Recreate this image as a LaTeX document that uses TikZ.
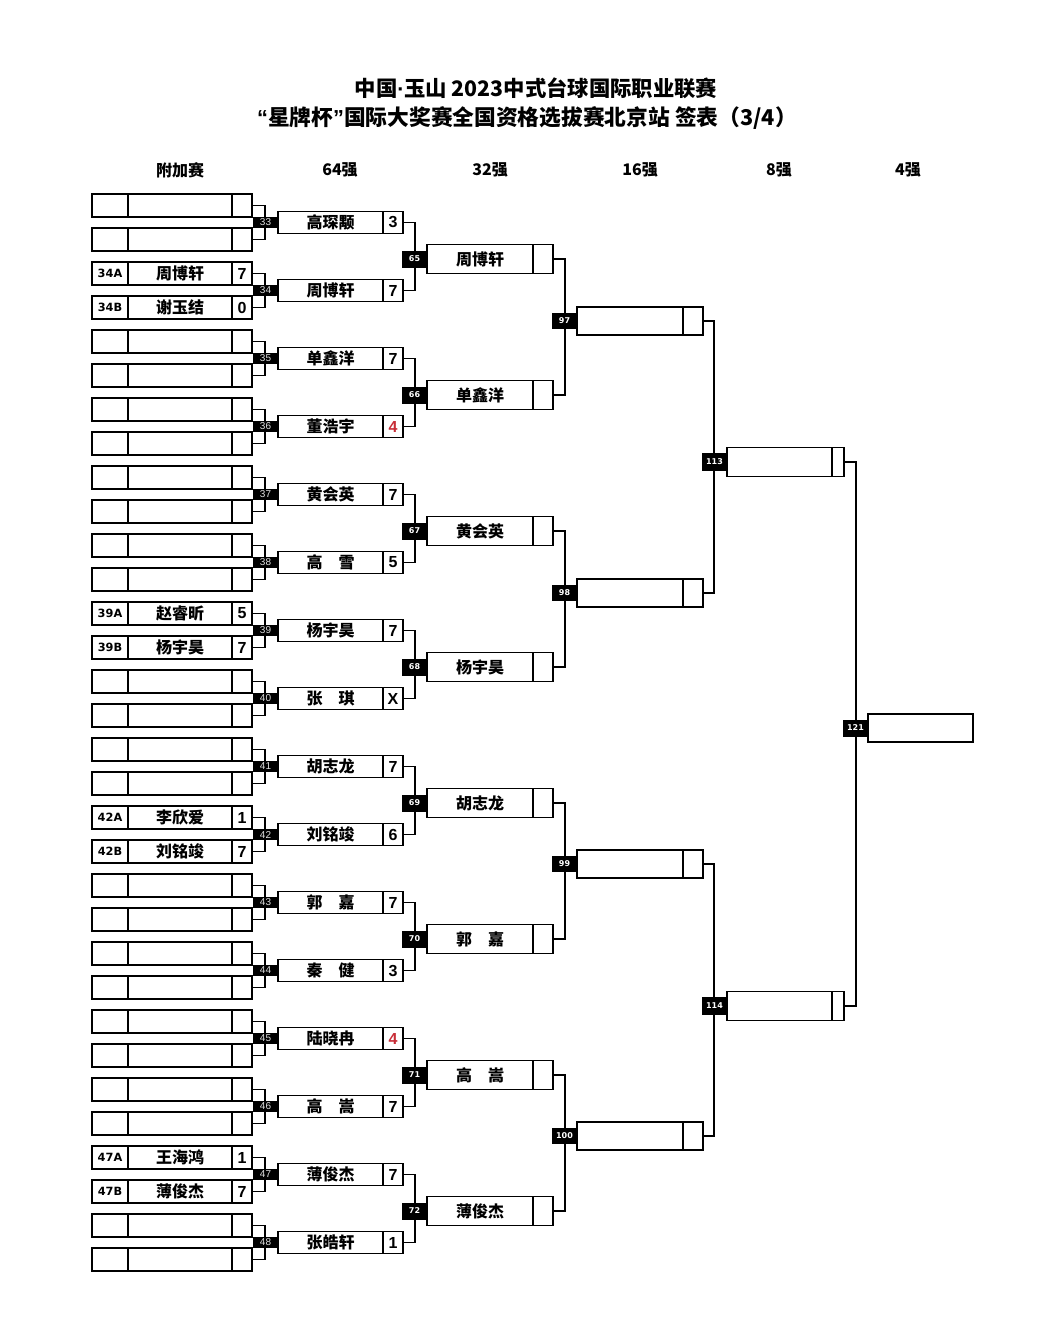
\documentclass[tikz,border=0pt]{standalone}
\usepackage{fontspec}
\setmainfont{Liberation Sans}
\newfontfamily\cjk{Noto Sans CJK SC}
\newfontfamily\verd{DejaVu Sans}
\usepackage{tikz}
\usetikzlibrary{positioning}

\newcommand\pxl{0.75pt}
\definecolor{losered}{RGB}{200,45,55}

\begin{document}
\begin{tikzpicture}[
  x=\pxl, y=-\pxl, line width=1pt,
  cell/.style={draw,inner sep=0pt,outer sep=0pt,fill=white},
  namecell/.style={cell,font=\cjk\bfseries\fontsize{12pt}{12pt}\selectfont},
  scorecell/.style={cell,font=\bfseries\fontsize{12pt}{12pt}\selectfont},
  seedcell/.style={cell,font=\verd\bfseries\fontsize{8.5pt}{8.5pt}\selectfont},
  tag/.style={fill=black,inner sep=0pt,outer sep=0pt,minimum width=25*\pxl},
  tagsm/.style={tag,text=white!88!black,minimum height=11*\pxl,font=\fontsize{7.5pt}{7.5pt}\selectfont},
  tagbig/.style={tag,text=white,minimum height=17*\pxl,font=\verd\bfseries\fontsize{6pt}{6pt}\selectfont},
  head/.style={font=\cjk\bfseries\fontsize{12pt}{12pt}\selectfont},
  title/.style={font=\cjk\bfseries\fontsize{16pt}{16pt}\selectfont}
]
\useasboundingbox (0,0) rectangle (1042,1338);

% title and round headers
\node[title] (tt1) at (536,88) {中国{\rmfamily\bfseries ·}玉山 2023中式台球国际职业联赛};
\node[title,font=\cjk\bfseries\fontsize{16.3pt}{16.3pt}\selectfont] (tt2) at (527,118) {{\rmfamily\bfseries “}星牌杯{\rmfamily\bfseries ”}国际大奖赛全国资格选拔赛北京站 签表（3/4）};
\foreach \hx/\hlab [count=\k] in {180/附加赛,340/64强,490/32强,640/16强,779/8强,908/4强}
  \node[head] (h\k) at (\hx,170) {\hlab};

% round of 64
\foreach \m/\nm/\scr [count=\i from 0] in {33/高琛颙/3,34/周博轩/7,35/单鑫洋/7,
    36/董浩宇/{\textcolor{losered}{4}},37/黄会英/7,38/高　雪/5,39/杨宇昊/7,40/张　琪/X,
    41/胡志龙/7,42/刘铭竣/6,43/郭　嘉/7,44/秦　健/3,45/陆晓冉/{\textcolor{losered}{4}},
    46/高　嵩/7,47/薄俊杰/7,48/张皓轩/1}{
  \pgfmathsetmacro\yy{222.5+68*\i}
  \node[namecell,minimum width=105*\pxl,minimum height=22*\pxl,anchor=west] (r\m) at (278,\yy) {\nm};
  \node[scorecell,minimum width=20*\pxl,minimum height=22*\pxl,right=0pt of r\m] (rs\m) {\scr};
}

% qualifiers (附加赛)
\foreach \m/\da/\na/\pa/\db/\nb/\pb [count=\i from 0] in {
    33/{}/{}/{}/{}/{}/{},34/34A/周博轩/7/34B/谢玉结/0,35/{}/{}/{}/{}/{}/{},
    36/{}/{}/{}/{}/{}/{},37/{}/{}/{}/{}/{}/{},38/{}/{}/{}/{}/{}/{},
    39/39A/赵睿昕/5/39B/杨宇昊/7,40/{}/{}/{}/{}/{}/{},41/{}/{}/{}/{}/{}/{},
    42/42A/李欣爱/1/42B/刘铭竣/7,43/{}/{}/{}/{}/{}/{},44/{}/{}/{}/{}/{}/{},
    45/{}/{}/{}/{}/{}/{},46/{}/{}/{}/{}/{}/{},47/47A/王海鸿/1/47B/薄俊杰/7,
    48/{}/{}/{}/{}/{}/{}}{
  \pgfmathsetmacro\ya{205.5+68*\i}
  \pgfmathsetmacro\yb{239.5+68*\i}
  \node[namecell,minimum width=104*\pxl,minimum height=23*\pxl,anchor=west] (qa\m) at (128,\ya) {\na};
  \node[seedcell,minimum width=36*\pxl,minimum height=23*\pxl,left=0pt of qa\m] (qad\m) {\da};
  \node[scorecell,minimum width=20*\pxl,minimum height=23*\pxl,right=0pt of qa\m] (qas\m) {\pa};
  \node[namecell,minimum width=104*\pxl,minimum height=23*\pxl,anchor=west] (qb\m) at (128,\yb) {\nb};
  \node[seedcell,minimum width=36*\pxl,minimum height=23*\pxl,left=0pt of qb\m] (qbd\m) {\db};
  \node[scorecell,minimum width=20*\pxl,minimum height=23*\pxl,right=0pt of qb\m] (qbs\m) {\pb};
  \draw (qas\m.east) -- ++(13,0) |- (qbs\m.east);
  \node[tagsm,left=0pt of r\m] (t\m) {\m};
}

% round of 32
\foreach \m/\nm [count=\i from 0] in {65/周博轩,66/单鑫洋,67/黄会英,68/杨宇昊,
    69/胡志龙,70/郭　嘉,71/高　嵩,72/薄俊杰}{
  \pgfmathsetmacro\yy{259+136*\i}
  \pgfmathtruncatemacro\ua{33+2*\i}
  \pgfmathtruncatemacro\ub{34+2*\i}
  \node[namecell,minimum width=106*\pxl,minimum height=29*\pxl,anchor=west] (r\m) at (427,\yy) {\nm};
  \node[cell,minimum width=20*\pxl,minimum height=29*\pxl,right=0pt of r\m] (rs\m) {};
  \draw (rs\ua.east) -- ++(12,0) |- (rs\ub.east);
  \node[tagbig,left=0pt of r\m] (t\m) {\m};
}

% round of 16
\foreach \m/\yy [count=\i from 0] in {97/321,98/593,99/864,100/1136}{
  \pgfmathtruncatemacro\ua{65+2*\i}
  \pgfmathtruncatemacro\ub{66+2*\i}
  \node[cell,minimum width=106*\pxl,minimum height=28*\pxl,anchor=west] (r\m) at (577,\yy) {};
  \node[cell,minimum width=20*\pxl,minimum height=28*\pxl,right=0pt of r\m] (rs\m) {};
  \draw (rs\ua.east) -- ++(12,0) |- (rs\ub.east);
  \node[tagbig,minimum height=16*\pxl,left=0pt of r\m] (t\m) {\m};
}

% quarter finals
\foreach \m/\yy/\ua/\ub in {113/462/97/98,114/1006/99/100}{
  \node[cell,minimum width=105*\pxl,minimum height=29*\pxl,anchor=west] (r\m) at (727,\yy) {};
  \node[cell,minimum width=12*\pxl,minimum height=29*\pxl,right=0pt of r\m] (rs\m) {};
  \draw (rs\ua.east) -- ++(11,0) |- (rs\ub.east);
  \node[tagbig,minimum height=18*\pxl,left=0pt of r\m] (t\m) {\m};
}

% last four
\node[cell,minimum width=105*\pxl,minimum height=28*\pxl,anchor=west] (r121) at (868,728) {};
\draw (rs113.east) -- ++(12,0) |- (rs114.east);
\node[tagbig,left=0pt of r121] (t121) {121};
\end{tikzpicture}
\end{document}
